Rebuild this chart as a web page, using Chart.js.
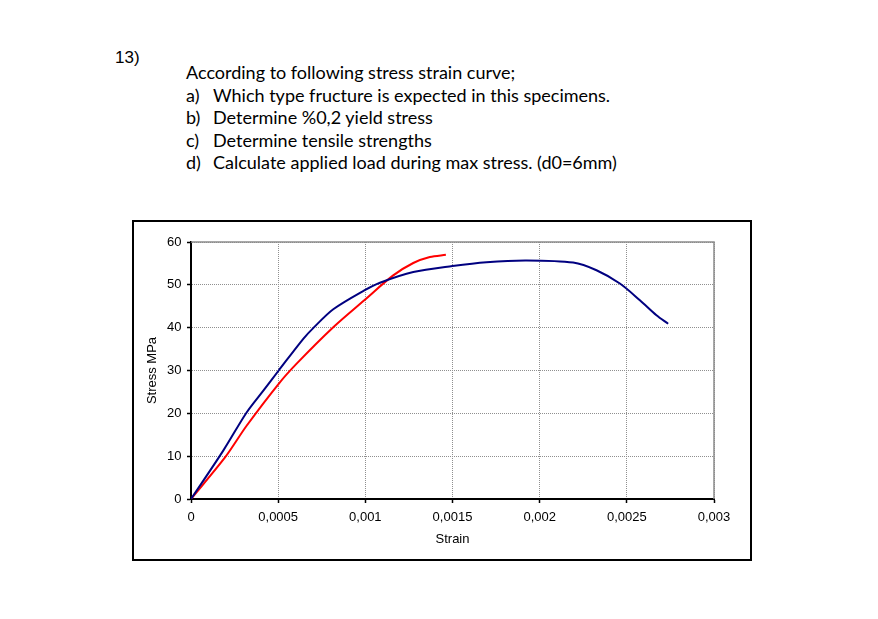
<!DOCTYPE html>
<html>
<head>
<meta charset="utf-8">
<script src="https://cdn.jsdelivr.net/npm/chart.js@4/dist/chart.umd.min.js"></script>
<style>
  body { margin: 0; background: #fff; width: 878px; height: 619px; position: relative; overflow: hidden; }
  .num { position: absolute; left: 115px; top: 48.5px; font: 17px "Liberation Sans", Arial, sans-serif; line-height: 17px; color: #000; }
  .q { position: absolute; left: 186px; top: 61px; font: 18px Lato, sans-serif; line-height: 22.5px; color: #000; }
  .q div { position: relative; white-space: nowrap; }
  .q .item { padding-left: 27px; }
  .q .item span { position: absolute; left: 0; }
  .box { position: absolute; left: 132px; top: 220px; width: 620px; height: 341px; border: 2px solid #000; box-sizing: border-box; }
  .box canvas { position: absolute; left: 0; top: 0; }
</style>
</head>
<body>
<div class="num">13)</div>
<div class="q">
  <div>According to following stress strain curve;</div>
  <div class="item"><span>a)</span>Which type fructure is expected in this specimens.</div>
  <div class="item"><span>b)</span>Determine %0,2 yield stress</div>
  <div class="item"><span>c)</span>Determine tensile strengths</div>
  <div class="item"><span>d)</span>Calculate applied load during max stress. (d0=6mm)</div>
</div>
<div class="box"><canvas id="chart" width="616" height="337"></canvas></div>
<script>
// values
const strainBlue = [0, 0.000185, 0.000319, 0.000415, 0.000503, 0.000644, 0.000701, 0.000816, 0.000994, 0.001084, 0.001275, 0.0015, 0.001695, 0.001925, 0.002192, 0.002326, 0.00246, 0.002575, 0.00267, 0.002737];
const stressBlue = [0, 11.3, 20.2, 25.3, 30, 37.4, 39.9, 44.3, 48.7, 50.5, 53, 54.4, 55.3, 55.7, 55.2, 53.4, 50.3, 46.4, 42.9, 40.9];
const strainRed = [0, 0.000195, 0.000319, 0.000503, 0.000606, 0.000816, 0.000994, 0.00116, 0.001275, 0.00137, 0.001462];
const stressRed = [0, 9.7, 17.1, 26.9, 31.6, 40.1, 46.4, 52.2, 55.1, 56.5, 57.0];
const xTickLabels = ['0', '0,0005', '0,001', '0,0015', '0,002', '0,0025', '0,003'];
const yTickLabels = ['0', '10', '20', '30', '40', '50', '60'];

const toPoints = (xs, ys) => xs.map((x, i) => ({ x: x, y: ys[i] }));
const tickFont = { family: '"Liberation Sans", Arial, sans-serif', size: 13 };

// top and right edges of the plot are solid grey in the original
const frame = {
  id: 'frame',
  beforeDatasetsDraw(chart) {
    const { ctx, chartArea: a } = chart;
    ctx.save();
    ctx.strokeStyle = '#8c8c8c';
    ctx.lineWidth = 1.5;
    ctx.beginPath();
    ctx.moveTo(a.left, a.top);
    ctx.lineTo(a.right, a.top);
    ctx.lineTo(a.right, a.bottom);
    ctx.stroke();
    ctx.restore();
  }
};

new Chart(document.getElementById('chart'), {
  type: 'line',
  data: {
    datasets: [
      {
        label: 'blue',
        data: toPoints(strainBlue, stressBlue),
        borderColor: '#000080',
        borderWidth: 2,
        pointRadius: 0,
        tension: 0.3
      },
      {
        label: 'red',
        data: toPoints(strainRed, stressRed),
        borderColor: '#ff0000',
        borderWidth: 2,
        pointRadius: 0,
        tension: 0.3
      }
    ]
  },
  options: {
    responsive: false,
    animation: false,
    events: [],
    layout: { padding: { top: 20, right: 36, left: 0, bottom: 0 } },
    plugins: { legend: { display: false }, tooltip: { enabled: false } },
    scales: {
      x: {
        type: 'linear',
        min: 0,
        max: 0.003,
        afterBuildTicks: s => { s.ticks = xTickLabels.map((_, i) => ({ value: i * 0.0005 })); },
        ticks: {
          autoSkip: false,
          maxRotation: 0,
          padding: 7,
          color: '#000',
          font: tickFont,
          callback: (v, i) => xTickLabels[i]
        },
        grid: { color: '#8f8f8f', lineWidth: 1, tickColor: '#000', tickLength: 4, tickWidth: 1.5 },
        border: { color: '#000', width: 2, dash: [1, 1] },
        title: { display: true, text: 'Strain', color: '#000', font: tickFont, padding: { top: 0, bottom: 12 } },
        afterFit: s => { s.height = 60; s.paddingLeft = 0; s.paddingRight = 0; }
      },
      y: {
        min: 0,
        max: 60,
        afterBuildTicks: s => { s.ticks = yTickLabels.map((_, i) => ({ value: i * 10 })); },
        ticks: {
          autoSkip: false,
          padding: 5.5,
          color: '#000',
          font: tickFont,
          callback: (v, i) => yTickLabels[i]
        },
        grid: { color: '#8f8f8f', lineWidth: 1, tickColor: '#000', tickLength: 4, tickWidth: 1.5 },
        border: { color: '#000', width: 2, dash: [1, 1] },
        title: { display: true, text: 'Stress MPa', color: '#000', font: tickFont, padding: { top: 11, bottom: 0 } },
        afterFit: s => { s.width = 57; s.paddingTop = 0; s.paddingBottom = 0; }
      }
    }
  },
  plugins: [frame]
});
</script>
</body>
</html>
